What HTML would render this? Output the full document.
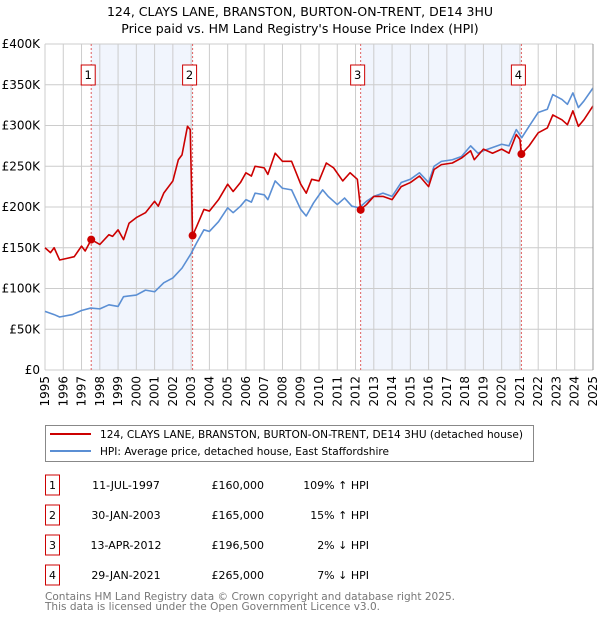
<!DOCTYPE html>
<html><head><meta charset="utf-8"><style>
body{margin:0;background:#fff;font-family:"Liberation Sans","DejaVu Sans",sans-serif;}
svg text{font-family:"DejaVu Sans","Liberation Sans",sans-serif;}
</style></head><body>
<svg width="600" height="620" viewBox="0 0 600 620">
<text x="300" y="16" text-anchor="middle" font-size="12.5">124, CLAYS LANE, BRANSTON, BURTON-ON-TRENT, DE14 3HU</text>
<text x="300" y="33" text-anchor="middle" font-size="12.5">Price paid vs. HM Land Registry's House Price Index (HPI)</text>
<g id="plot"></g>
<rect x="45.5" y="425.5" width="488" height="36" fill="#fff" stroke="#888"/>
<line x1="50" y1="434" x2="91" y2="434" stroke="#cc0000" stroke-width="2"/>
<text x="100" y="438" font-size="11" textLength="423" lengthAdjust="spacingAndGlyphs">124, CLAYS LANE, BRANSTON, BURTON-ON-TRENT, DE14 3HU (detached house)</text>
<line x1="50" y1="451" x2="91" y2="451" stroke="#5b8fd4" stroke-width="2"/>
<text x="100" y="455" font-size="11" textLength="289" lengthAdjust="spacingAndGlyphs">HPI: Average price, detached house, East Staffordshire</text>
<g id="table" font-size="11"></g>
<text x="45" y="600" font-size="11" fill="#777" textLength="410" lengthAdjust="spacingAndGlyphs">Contains HM Land Registry data © Crown copyright and database right 2025.</text>
<text x="45" y="610" font-size="11" fill="#777" textLength="335" lengthAdjust="spacingAndGlyphs">This data is licensed under the Open Government Licence v3.0.</text>
</svg>
<script>
const hpiYears=[1995,1995.5,1995.8,1996.5,1997,1997.5,1998,1998.5,1999,1999.3,2000,2000.5,2001,2001.5,2002,2002.5,2003,2003.3,2003.7,2004,2004.5,2005,2005.3,2005.7,2006,2006.3,2006.5,2007,2007.2,2007.6,2008,2008.5,2009,2009.3,2009.7,2010.2,2010.5,2011,2011.4,2011.8,2012.2,2012.6,2013,2013.5,2014,2014.5,2015,2015.5,2016,2016.3,2016.7,2017.3,2017.8,2018.3,2018.7,2019,2019.5,2020,2020.4,2020.8,2021.1,2021.5,2022,2022.5,2022.8,2023.3,2023.6,2023.9,2024.2,2024.5,2025];
const hpiValues=[72,68,65,68,73,76,75,80,78,90,92,98,96,107,113,125,143,156,172,170,182,199,193,201,209,206,217,215,209,232,223,221,197,189,205,221,213,203,211,201,199,207,213,217,213,230,234,242,230,250,256,258,262,275,266,269,273,277,275,295,285,299,316,320,338,332,326,340,322,330,346];
const priceYears=[1995,1995.3,1995.5,1995.8,1996.2,1996.6,1997,1997.2,1997.53,1998,1998.5,1998.7,1999,1999.3,1999.6,2000,2000.5,2001,2001.2,2001.5,2002,2002.3,2002.5,2002.8,2002.95,2003.08,2003.3,2003.7,2004,2004.5,2005,2005.3,2005.7,2006,2006.3,2006.5,2007,2007.2,2007.6,2008,2008.5,2009,2009.3,2009.6,2010,2010.4,2010.8,2011.3,2011.7,2012.1,2012.28,2012.6,2013,2013.5,2014,2014.5,2015,2015.5,2016,2016.3,2016.7,2017.3,2017.8,2018.3,2018.5,2019,2019.5,2020,2020.4,2020.8,2021.0,2021.08,2021.5,2022,2022.5,2022.8,2023.3,2023.6,2023.9,2024.2,2024.5,2025];
const priceValues=[150,144,150,135,137,139,152,146,160,154,166,164,172,160,180,187,193,207,201,217,232,258,264,299,295,165,176,197,195,209,228,219,230,242,238,250,248,240,266,256,256,228,217,234,232,254,248,232,242,234,197,203,213,213,209,225,230,238,225,246,252,254,260,269,258,271,266,271,266,289,283,265,275,291,297,313,307,301,318,299,307,324];
const saleLabels=["1","2","3","4"];
const saleYears=[1997.53,2003.08,2012.28,2021.08];
const saleValues=[160,165,196.5,265];
const saleDates=["11-JUL-1997","30-JAN-2003","13-APR-2012","29-JAN-2021"];
const salePrices=["£160,000","£165,000","£196,500","£265,000"];
const saleHpi=["109% ↑ HPI","15% ↑ HPI","2% ↓ HPI","7% ↓ HPI"];
const yTicks=[0,50,100,150,200,250,300,350,400];
const yTickLabels=["£0","£50K","£100K","£150K","£200K","£250K","£300K","£350K","£400K"];
const xTicks=[];for(let y=1995;y<=2025;y++)xTicks.push(y);

const NS="http://www.w3.org/2000/svg";
const X0=45,X1=593,Y0=370,Y1=44;
const xs=y=>X0+(y-1995)/30*(X1-X0);
const ys=v=>Y0-v/400*(Y0-Y1);
const plot=document.getElementById('plot');
function mk(t,a,p){const e=document.createElementNS(NS,t);for(const k in a)e.setAttribute(k,a[k]);(p||plot).appendChild(e);return e;}

for(let i=0;i<saleYears.length;i+=2){
  const r=mk('rect',{x:xs(saleYears[i]),y:Y1,width:xs(saleYears[i+1])-xs(saleYears[i]),height:Y0-Y1,fill:'#eef3fc',opacity:0.8});
  
  
}
xTicks.forEach(t=>{
  const l=mk('line',{x1:xs(t),x2:xs(t),y1:Y1,y2:Y0,stroke:'#ccc','stroke-width':1});
  
  
  const tx=mk('text',{x:0,y:0,'font-size':12,'text-anchor':'end',transform:`translate(${xs(t)+4},${Y0+6}) rotate(-90)`});
  tx.textContent=t;
  
  
});
yTicks.forEach((t,i)=>{
  const l=mk('line',{x1:X0,x2:X1,y1:ys(t),y2:ys(t),stroke:'#ccc','stroke-width':1});
  
  
  const tx=mk('text',{x:40,y:ys(t)+4,'font-size':12,'text-anchor':'end'});
  tx.textContent=yTickLabels[i];
  
  
});
saleYears.forEach((y,i)=>{
  const l=mk('line',{x1:xs(y),x2:xs(y),y1:Y1,y2:Y0,stroke:'#e06060','stroke-width':1,'stroke-dasharray':'2,2'});
  
  
  const b=mk('rect',{x:xs(y)-10,y:65,width:14,height:20,fill:'#fff',stroke:'#cc0000'});
  
  
  const t=mk('text',{x:xs(y)-3,y:79,'font-size':11.5,'text-anchor':'middle'});
  t.textContent=saleLabels[i];
  
  
});
function line(yrs,vals,col,name){
  const p=mk('polyline',{points:yrs.map((y,i)=>xs(y)+','+ys(vals[i])).join(' '),fill:'none',stroke:col,'stroke-width':1.6,'stroke-linejoin':'round'});
  
  
}
line(hpiYears,hpiValues,'#5b8fd4','hpi-line');
line(priceYears,priceValues,'#cc0000','price-line');
saleYears.forEach((y,i)=>{
  const c=mk('circle',{cx:xs(y),cy:ys(saleValues[i]),r:4,fill:'#cc0000'});
  
  
});
mk('line',{x1:X1,x2:X1,y1:Y1,y2:Y0,stroke:'#999'});

const tbl=document.getElementById('table');
saleLabels.forEach((s,i)=>{
  const cy=485+i*30;
  const b=mk('rect',{x:45.5,y:cy-10,width:14,height:20,fill:'#fff',stroke:'#cc0000'},tbl);
  
  
  const a=mk('text',{x:52.5,y:cy+4,'text-anchor':'middle'},tbl);a.textContent=s;
  
  
  const d=mk('text',{x:126,y:cy+4,'text-anchor':'middle'},tbl);d.textContent=saleDates[i];
  
  
  const p=mk('text',{x:264,y:cy+4,'text-anchor':'end'},tbl);p.textContent=salePrices[i];
  
  
  const h=mk('text',{x:369,y:cy+4,'text-anchor':'end'},tbl);h.textContent=saleHpi[i];
  
  
});
</script>
</body></html>
